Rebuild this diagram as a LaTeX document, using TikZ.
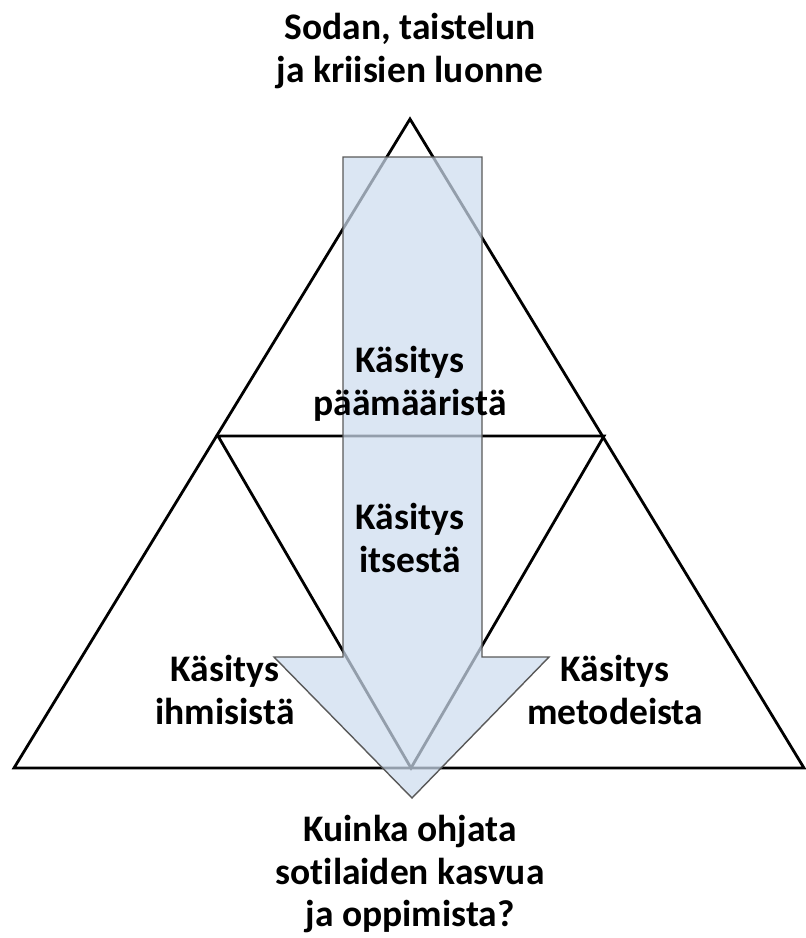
\documentclass[tikz,border=0pt]{standalone}
\usepackage{fontspec}
\setmainfont{Carlito}[Ligatures={NoCommon}]
\begin{document}
\begin{tikzpicture}[x=1pt,y=-1pt,
  tri/.style={draw=black,line width=2.8pt,line join=miter},
  arrowshape/.style={draw=black!65,line width=1.4pt,fill={rgb,255:red,205;green,220;blue,238},fill opacity=0.72},
  lbl/.style={font=\bfseries\fontsize{37.5}{43}\selectfont,align=center,text=black,inner sep=0pt}]
\useasboundingbox (0,0) rectangle (806,938);
\coordinate (A) at (410,119);
\coordinate (BL) at (14,768);
\coordinate (BR) at (804,768);
\coordinate (ML) at (218,436);
\coordinate (MR) at (604,436);
\coordinate (MB) at (411,768);
\draw[tri] (A) -- (BL) -- (BR) -- cycle;
\draw[tri] (ML) -- (MR) -- (MB) -- cycle;
\draw[arrowshape] (343,157) -- (482,157) -- (482,657) -- (549,657) -- (412,798) -- (274,657) -- (343,657) -- cycle;
\node[lbl] (top) at (410,51) {Sodan, taistelun\\ja kriisien luonne};
\node[lbl] (goal) at (410,384) {Käsitys\\päämääristä};
\node[lbl] (self) at (410,538) {Käsitys\\itsestä};
\node[lbl] (people) at (225,690) {Käsitys\\ihmisistä};
\node[lbl] (methods) at (615,690) {Käsitys\\metodeista};
\node[lbl] (bottom) at (410,874) {Kuinka ohjata\\sotilaiden kasvua\\ja oppimista?};
\end{tikzpicture}
\end{document}
